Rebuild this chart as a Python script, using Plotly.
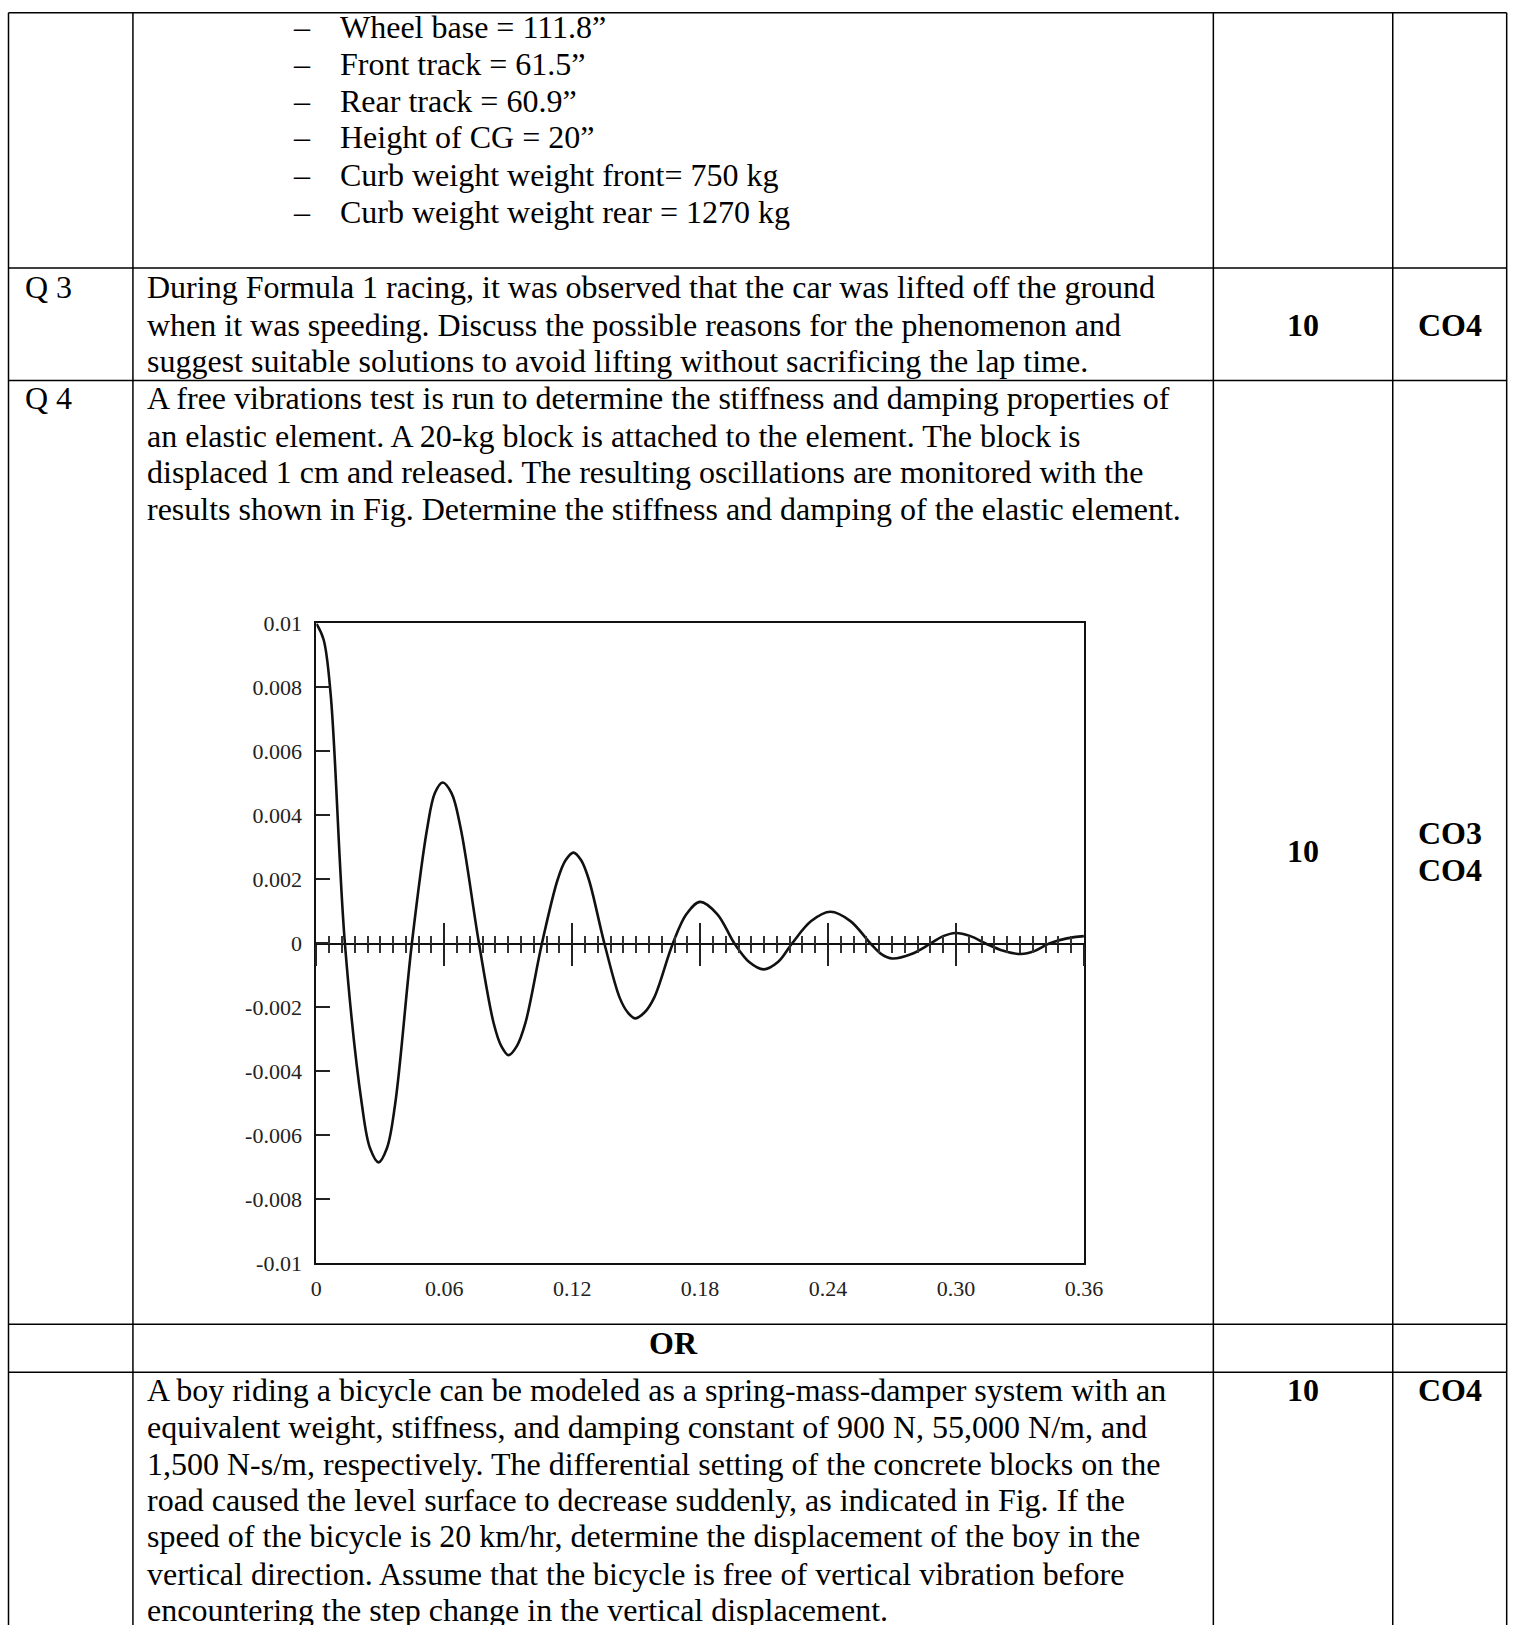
import plotly.graph_objects as go

# ---------------- chart data ----------------
t_values = [0.0, 0.0034, 0.0067, 0.0134,
            0.0213, 0.0252, 0.0292, 0.0331, 0.0370, 0.0448,
            0.0520, 0.0556, 0.0592, 0.0634, 0.0677, 0.0763,
            0.0832, 0.0867, 0.0902, 0.0941, 0.0980, 0.1058,
            0.1132, 0.1169, 0.1206, 0.1242, 0.1278, 0.1351,
            0.1423, 0.1460, 0.1496, 0.1540, 0.1584, 0.1672,
            0.1736, 0.1800, 0.1880, 0.1961,
            0.2030, 0.2098, 0.2165, 0.2231,
            0.2321, 0.2411, 0.2505, 0.2599,
            0.2650, 0.2701, 0.2791, 0.2881,
            0.2940, 0.2998, 0.3068, 0.3139,
            0.3222, 0.3304, 0.3370, 0.3437,
            0.3520, 0.3600]
x_values = [0.0100, 0.0095, 0.0078, 0.0,
            -0.0050, -0.0064, -0.00684, -0.0064, -0.0050, 0.0,
            0.0036, 0.0047, 0.00503, 0.0047, 0.0036, 0.0,
            -0.0025, -0.0032, -0.00349, -0.0032, -0.0025, 0.0,
            0.0020, 0.0026, 0.00284, 0.0026, 0.0020, 0.0,
            -0.0017, -0.00215, -0.00234, -0.00215, -0.0017, 0.0,
            0.00092, 0.0013, 0.00092, 0.0,
            -0.00058, -0.00081, -0.00058, 0.0,
            0.0007, 0.00099, 0.0007, 0.0,
            -0.00033, -0.00047, -0.00033, 0.0,
            0.00023, 0.00033, 0.00023, 0.0,
            -0.00023, -0.00033, -0.00023, 0.0,
            0.00016, 0.00023]

y_tick_vals = [0.01, 0.008, 0.006, 0.004, 0.002, 0.0, -0.002, -0.004, -0.006, -0.008, -0.01]
y_tick_text = ["0.01", "0.008", "0.006", "0.004", "0.002", "0", "-0.002", "-0.004", "-0.006", "-0.008", "-0.01"]
x_tick_vals = [0.0, 0.06, 0.12, 0.18, 0.24, 0.30, 0.36]
x_tick_text = ["0", "0.06", "0.12", "0.18", "0.24", "0.30", "0.36"]

# ---------------- page text ----------------
bullets = ["Wheel base = 111.8\u201d", "Front track = 61.5\u201d", "Rear track = 60.9\u201d",
           "Height of CG = 20\u201d", "Curb weight weight front= 750 kg",
           "Curb weight weight rear = 1270 kg"]
q3_lines = ["During Formula 1 racing, it was observed that the car was lifted off the ground",
            "when it was speeding. Discuss the possible reasons for the phenomenon and",
            "suggest suitable solutions to avoid lifting without sacrificing the lap time."]
q4_lines = ["A free vibrations test is run to determine the stiffness and damping properties of",
            "an elastic element. A 20-kg block is attached to the element. The block is",
            "displaced 1 cm and released. The resulting oscillations are monitored with the",
            "results shown in Fig. Determine the stiffness and damping of the elastic element."]
or_lines = ["A boy riding a bicycle can be modeled as a spring-mass-damper system with an",
            "equivalent weight, stiffness, and damping constant of 900 N, 55,000 N/m, and",
            "1,500 N-s/m, respectively. The differential setting of the concrete blocks on the",
            "road caused the level surface to decrease suddenly, as indicated in Fig. If the",
            "speed of the bicycle is 20 km/hr, determine the displacement of the boy in the",
            "vertical direction. Assume that the bicycle is free of vertical vibration before",
            "encountering the step change in the vertical displacement."]

# layout positions are given in target-picture pixels and corrected for the capture
SC, BX, BY = 0.985, 4.5, 10.5
W, H = 1545, 1665


def px(v):
    return ((v - BX) / SC) / W


def py(v):
    return 1 - ((v - BY) / SC) / H


SERIF = "Liberation Serif, Times New Roman, serif"
FS = 32

fig = go.Figure()
fig.add_trace(go.Scatter(x=t_values, y=x_values, mode="lines",
                         line=dict(color="#111111", width=2.6, shape="spline", smoothing=1.0),
                         hoverinfo="skip", showlegend=False))
fig.add_trace(go.Scatter(x=[], y=[], xaxis="x2", yaxis="y", showlegend=False))
fig.add_trace(go.Scatter(x=[], y=[], xaxis="x3", yaxis="y", showlegend=False))

plot_l, plot_r, plot_t, plot_b, zero_y = 316, 1084, 622, 1262, 942.5
xdom = [px(plot_l), px(plot_r)]

fig.update_layout(
    width=W, height=H, margin=dict(l=0, r=0, t=0, b=0),
    paper_bgcolor="white", plot_bgcolor="white",
    xaxis=dict(domain=xdom, range=[0, 0.36], showline=True, mirror=True, linecolor="#111111",
               linewidth=2, ticks="", tickvals=x_tick_vals, ticktext=x_tick_text,
               tickfont=dict(family=SERIF, size=22, color="#222222"), ticklabelstandoff=4,
               showgrid=False, zeroline=False, fixedrange=True),
    yaxis=dict(domain=[py(plot_b), py(plot_t)], range=[-0.01, 0.01], showline=True, mirror=True,
               linecolor="#111111", linewidth=2, ticks="inside", ticklen=14, tickwidth=2,
               tickcolor="#222222", tickvals=y_tick_vals, ticktext=y_tick_text,
               tickfont=dict(family=SERIF, size=22, color="#222222"), ticklabelstandoff=8,
               showgrid=False, zeroline=False, fixedrange=True),
    xaxis2=dict(domain=xdom, range=[0, 0.36], overlaying="x", anchor="free", position=py(zero_y),
                showline=True, linecolor="#111111", linewidth=2, ticks="outside", ticklen=21,
                tickwidth=2, tickcolor="#222222", tick0=0, dtick=0.06, showticklabels=False,
                minor=dict(ticks="outside", ticklen=8, tickwidth=1.6, tickcolor="#333333",
                           tick0=0, dtick=0.006, showgrid=False),
                showgrid=False, zeroline=False, fixedrange=True),
    xaxis3=dict(domain=xdom, range=[0, 0.36], overlaying="x", anchor="free", position=py(zero_y),
                showline=False, ticks="inside", ticklen=21,
                tickwidth=2, tickcolor="#222222", tick0=0, dtick=0.06, showticklabels=False,
                minor=dict(ticks="inside", ticklen=8, tickwidth=1.6, tickcolor="#333333",
                           tick0=0, dtick=0.006, showgrid=False),
                showgrid=False, zeroline=False, fixedrange=True),
)

# ---------------- table lines ----------------
col_x = [8, 132.5, 1213.5, 1393, 1507]
row_y = [11.2, 266.5, 379, 1322.7, 1370.7]
shapes = []
for cx in col_x:
    shapes.append(dict(type="line", xref="paper", yref="paper", x0=px(cx), x1=px(cx),
                       y0=py(row_y[0]), y1=py(1660), line=dict(color="black", width=1.5)))
for ry in row_y:
    shapes.append(dict(type="line", xref="paper", yref="paper", x0=px(col_x[0]), x1=px(col_x[-1]),
                       y0=py(ry), y1=py(ry), line=dict(color="black", width=1.5)))
fig.update_layout(shapes=shapes)

annotations = []


def txt(s, x, y, anchor="left", bold=False, size=FS):
    annotations.append(dict(text=("<b>%s</b>" % s) if bold else s, x=px(x), y=py(y - 2),
                            xref="paper", yref="paper", xanchor=anchor, yanchor="middle",
                            showarrow=False, font=dict(family=SERIF, size=size, color="black")))


bullet_y = [28.0, 64.3, 101.6, 137.8, 175.1, 212.4]
for b, yy in zip(bullets, bullet_y):
    txt("\u2013", 291, yy)
    txt(b, 338, yy)

txt("Q 3", 23, 288)
for line, yy in zip(q3_lines, [288, 325.4, 361.7]):
    txt(line, 145, yy)
txt("10", 1303, 325.4, anchor="center", bold=True)
txt("CO4", 1450, 325.4, anchor="center", bold=True)

txt("Q 4", 23, 399)
for line, yy in zip(q4_lines, [399, 436.3, 472.6, 509.9]):
    txt(line, 145, yy)
txt("10", 1303, 851.8, anchor="center", bold=True)
txt("CO3", 1450, 833.2, anchor="center", bold=True)
txt("CO4", 1450, 870.5, anchor="center", bold=True)

txt("OR", 673, 1344, anchor="center", bold=True)

for line, yy in zip(or_lines, [1390.7, 1428, 1464.3, 1500.6, 1536.9, 1574.2, 1610.4]):
    txt(line, 145, yy)
txt("10", 1303, 1390.7, anchor="center", bold=True)
txt("CO4", 1450, 1390.7, anchor="center", bold=True)

fig.update_layout(annotations=annotations)

fig.write_html("out.html", config={"displayModeBar": False},
               post_script="document.documentElement.style.overflow='hidden';"
                           "document.body.style.margin='0';document.body.style.overflow='hidden';")
